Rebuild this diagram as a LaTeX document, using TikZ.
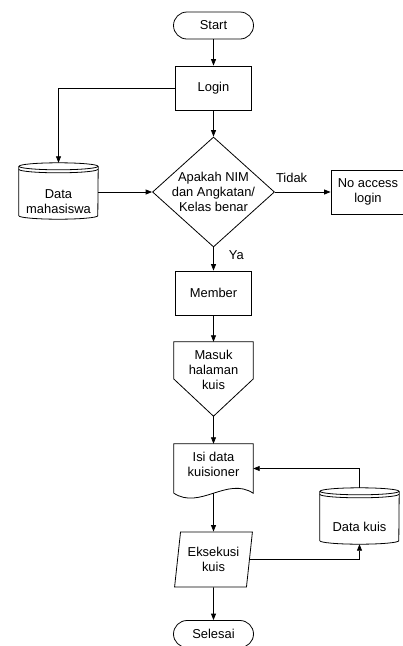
\documentclass[tikz,border=0pt]{standalone}
\usepackage{fontspec}
\setmainfont{Liberation Sans}
\usetikzlibrary{arrows.meta,shapes.geometric,calc}

\begin{document}
\begin{tikzpicture}[x=1pt,y=-1pt]
        \tikzset{every node/.style={font=\fontsize{12.9pt}{15pt}\selectfont, align=center, inner sep=2pt},
            outline/.style={draw, line width=0.8pt},
            flow/.style={outline, -{Triangle[length=6.5pt,width=5pt]}},
            terminal/.style={outline, rectangle, rounded corners=13.5pt, minimum width=80pt, minimum height=27pt},
            process/.style={outline, rectangle, minimum width=76pt, minimum height=44pt},
            decision/.style={outline, diamond, aspect=1.11, inner xsep=0pt, inner ysep=-3pt,
                minimum width=122pt, minimum height=110pt},
            io/.style={outline, trapezium, trapezium left angle=80, trapezium right angle=100,
                trapezium stretches=true, minimum width=78pt, minimum height=55pt},
            database/.style={minimum width=79pt, minimum height=56pt},
            docshape/.style={minimum width=79pt, minimum height=49pt},
            offpage/.style={minimum width=79pt, minimum height=74pt}}
        \useasboundingbox (0,0) rectangle (403,646);

        \node[terminal] (start) at (213.5,25.5) {Start};
        \node[process] (login) at (213.5,88) {Login};
        \node[database, label={[yshift=-11pt]center:Data\\mahasiswa}] (mhs) at (58.5,191) {};
        \node[decision] (cek) at (213.5,192) {Apakah NIM\\dan Angkatan/\\Kelas benar};
        \node[process, minimum width=74pt] (noacc) at (368,192) {No access\\login};
        \node[process] (member) at (213.5,293) {Member};
        \node[offpage, label={[yshift=9.5pt]center:Masuk\\halaman\\kuis}] (masuk) at (213.5,379) {};
        \node[docshape, label={[yshift=4pt]center:Isi data\\kuisioner}] (isi) at (213.5,468.5) {};
        \node[io] (eks) at (213.5,559.5) {Eksekusi\\kuis};
        \node[database, label={[yshift=-11pt]center:Data kuis}] (dkuis) at (359.5,516) {};
        \node[terminal] (selesai) at (213.5,634) {Selesai};

        % outlines of the special shapes
        \foreach \db in {mhs,dkuis}{
            \draw[outline] ($(\db.north)+(0,3.5)$) ellipse [x radius=39.5pt, y radius=3.5pt];
            \draw[outline] ($(\db.north west)+(0,6.5)$) arc [start angle=180, end angle=360, x radius=39.5pt, y radius=3.5pt];
            \draw[outline] ($(\db.north west)+(0,3.5)$) -- ($(\db.south west)+(0,-3.5)$)
                arc [start angle=180, end angle=360, x radius=39.5pt, y radius=3.5pt] -- ($(\db.north east)+(0,3.5)$);
        }
        \draw[outline] (isi.south west) -- (isi.north west) -- (isi.north east) -- (isi.south east)
            .. controls +(-26,-17) and +(26,17) .. (isi.south west);
        \draw[outline] (masuk.west) -- (masuk.north west) -- (masuk.north east) -- (masuk.east) -- (masuk.south) -- cycle;

        % connectors
        \draw[flow] (start) -- (login);
        \draw[flow] (login.west) -| (mhs.north);
        \draw[flow] (login) -- (cek);
        \draw[flow] (mhs.east |- cek.west) -- (cek.west);
        \draw[flow] (cek) -- node[above=7pt, pos=0.3] {Tidak} (noacc);
        \draw[flow] (cek) -- node[right=13pt, pos=0.35] {Ya} (member);
        \draw[flow] (member) -- (masuk);
        \draw[flow] (masuk) -- (isi);
        \draw[flow] (isi) -- (eks);
        \draw[flow] (eks.east) -| (dkuis.south);
        \draw[flow] (dkuis.north) |- (isi.east);
        \draw[flow] (eks) -- (selesai);
    \end{tikzpicture}
\end{document}
